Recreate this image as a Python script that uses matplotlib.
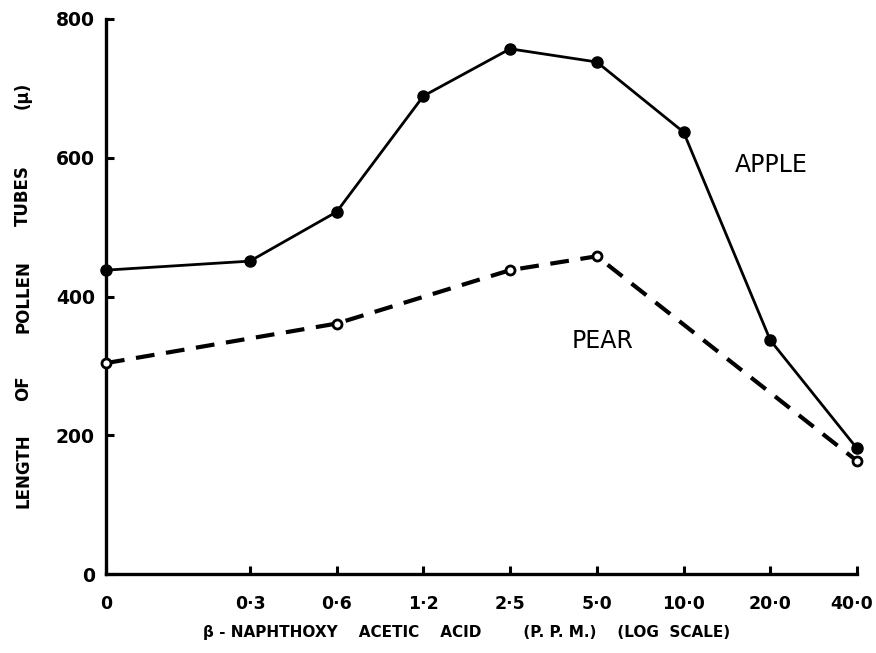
import numpy as np
import matplotlib
matplotlib.use("Agg")
import matplotlib.pyplot as plt
import matplotlib.transforms as mtransforms

# ---- data ----
conc_labels = ["0", "0·3", "0·6", "1·2", "2·5", "5·0", "10·0", "20·0", "40·0"]
apple = [438, 451, 522, 689, 757, 738, 637, 337, 181]
pear_idx = [0, 2, 4, 5, 8]
pear = [304, 361, 438, 458, 163]
y_ticks = [0, 200, 400, 600, 800]
ylabel_words = ["LENGTH", "OF", "POLLEN", "TUBES", "(μ)"]
ylabel_centers_px = [471, 388, 297, 196, 95]

# log-scale positions: doubling steps evenly spaced, zero placed left of 0.3
zero_offset = 1.66
pos = np.concatenate([[-zero_offset], np.arange(len(conc_labels) - 1)])

W, H = 876, 653
fig = plt.figure(figsize=(W/100, H/100), dpi=100)
ax = fig.add_axes([106/W, 1-574/H, (857-106)/W, (574-19)/H])

ax.plot(pos, apple, color="black", lw=2.0, marker="o", ms=8,
        markerfacecolor="black", markeredgecolor="black", clip_on=False, zorder=3)
ax.plot(pos[pear_idx], pear, color="black", lw=3.0, ls=(0, (4.5, 2.8)),
        marker="o", ms=6.5, markerfacecolor="white", markeredgecolor="black",
        markeredgewidth=2.0, clip_on=False, zorder=4)

ax.set_xlim(pos[0], pos[-1])
ax.set_ylim(0, 800)
ax.set_xticks(pos)
ax.set_xticklabels(conc_labels)
ax.set_yticks(y_ticks)
for s in ["top", "right"]:
    ax.spines[s].set_visible(False)
for s in ["left", "bottom"]:
    ax.spines[s].set_linewidth(2.4)
    ax.spines[s].set_capstyle("projecting")
ax.tick_params(axis="both", direction="in", length=6, width=2.2)
ax.tick_params(axis="x", pad=15, labelsize=12.5)
ax.tick_params(axis="y", pad=8, labelsize=13.5)
for lab in ax.get_xticklabels() + ax.get_yticklabels():
    lab.set_fontweight("bold")
last = ax.get_xticklabels()[-1]
last.set_transform(last.get_transform() +
                   mtransforms.ScaledTranslation(-5/100, 0, fig.dpi_scale_trans))

def px_to_x(px):
    return (px - 106) / (857 - 106) * (pos[-1] - pos[0]) + pos[0]

ax.text(px_to_x(735), 589, "APPLE", fontsize=17, ha="left", va="center")
ax.text(px_to_x(572), 336, "PEAR", fontsize=17, ha="left", va="center")

for word, cy in zip(ylabel_words, ylabel_centers_px):
    fig.text(23/W, 1-cy/H, word, rotation=90, ha="center", va="center",
             fontsize=12, fontweight="bold")

fig.text(467/W, 1-633/H,
         "β - NAPHTHOXY    ACETIC    ACID        (P. P. M.)    (LOG  SCALE)",
         ha="center", va="center", fontsize=11, fontweight="bold")

fig.savefig("out.png", dpi=100)
